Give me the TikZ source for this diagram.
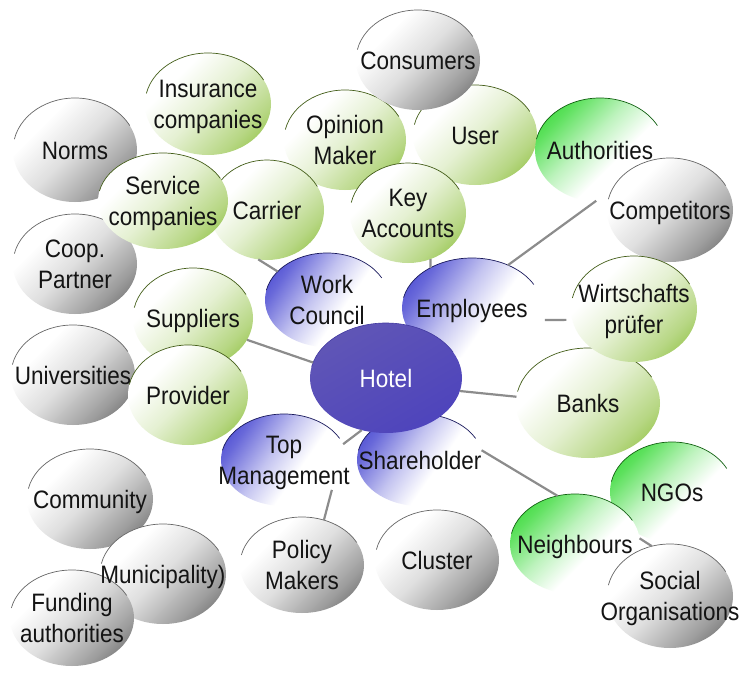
\documentclass[tikz,border=0pt]{standalone}
\usepackage{fontspec}
\usepackage{graphicx}
\setmainfont{Liberation Sans}
\usetikzlibrary{shapes.geometric}
\pgfdeclarelayer{background}
\pgfdeclarelayer{bubbles}
\pgfdeclarelayer{links}
\pgfsetlayers{background,bubbles,links,main}

\definecolor{greyC}{RGB}{92,92,92}
\definecolor{limeC}{RGB}{135,188,50}
\definecolor{vividC}{RGB}{40,215,40}
\definecolor{blueC}{RGB}{55,55,205}
\definecolor{hotelA}{RGB}{96,86,182}
\definecolor{hotelB}{RGB}{78,68,188}

\pgfdeclareverticalshading{greyS}{100bp}{color(0bp)=(greyC); color(15bp)=(greyC); color(30bp)=(greyC!60!white); color(50bp)=(greyC!20!white); color(68bp)=(white); color(100bp)=(white)}
\pgfdeclareverticalshading{limeS}{100bp}{color(0bp)=(limeC); color(15bp)=(limeC); color(30bp)=(limeC!60!white); color(50bp)=(limeC!22!white); color(68bp)=(white); color(100bp)=(white)}
\pgfdeclareverticalshading{vividS}{100bp}{color(0bp)=(white); color(42bp)=(white); color(56bp)=(vividC!30!white); color(72bp)=(vividC!75!white); color(85bp)=(vividC); color(100bp)=(vividC)}
\pgfdeclareverticalshading{blueS}{100bp}{color(0bp)=(white); color(42bp)=(white); color(56bp)=(blueC!30!white); color(72bp)=(blueC!75!white); color(85bp)=(blueC); color(100bp)=(blueC)}

\newcommand\tx[1]{\scalebox{1}[1.12]{\begin{tabular}{@{}c@{}}#1\end{tabular}}}

\tikzset{
  bub/.style={ellipse, inner sep=0pt, outer sep=0pt},
  lbl/.style={inner sep=0pt, yshift=-3pt, font=\fontsize{22.5}{28}\selectfont, text=black!92},
  greyfill/.style={shading=greyS, shading angle=45},
  greyrim/.style={draw=black!60, line width=0.7pt},
  limefill/.style={shading=limeS, shading angle=45},
  limerim/.style={draw=limeC!50!black, line width=0.7pt},
  vividfill/.style={shading=vividS, shading angle=45},
  vividrim/.style={draw=vividC!45!black, line width=0.7pt},
  bluefill/.style={shading=blueS, shading angle=55},
  bluerim/.style={draw=blueC!45!black, line width=0.7pt},
  hotelfill/.style={top color=hotelA, bottom color=hotelB, shading angle=30},
  hotelrim/.style={draw=hotelB!85!black, line width=0.6pt},
  conn/.style={draw=gray!90, line width=2.2pt},
}

% name, x, y, a, b, kind, text
\newcommand\bubble[7]{%
  \node[bub, minimum width={2*#4pt}, minimum height={2*#5pt},
        label={[lbl]center:{\tx{#7}}}] (#1) at (#2,-#3) {};
  \begin{pgfonlayer}{bubbles}
    \shade[#6fill] (#1.center) ellipse[x radius=#4, y radius=#5];
    \draw[#6rim] ([shift={(168:#4 and #5)}]#1.center)
       arc[start angle=168, end angle=28, x radius=#4, y radius=#5];
  \end{pgfonlayer}
}

\begin{document}
\begin{tikzpicture}[x=1pt,y=1pt]
\useasboundingbox (0,0) rectangle (740,-677);
\begin{pgfonlayer}{background}
  \fill[white] (0,0) rectangle (740,-677);
\end{pgfonlayer}

\bubble{insurance}{208}{104}{63}{51}{lime}{Insurance\\companies}
\bubble{user}{475}{135}{62}{50}{lime}{User}
\bubble{opinion}{345}{140}{61}{50}{lime}{Opinion\\Maker}
\bubble{consumers}{418}{60}{62}{50}{grey}{Consumers}
\bubble{norms}{75}{150}{62}{52}{grey}{Norms}
\bubble{authorities}{600}{150}{65}{52}{vivid}{Authorities}
\bubble{comp}{670}{210}{63}{52}{grey}{Competitors}
\bubble{carrier}{267}{210}{57}{50}{lime}{Carrier}
\bubble{keyacc}{408}{213}{58}{50}{lime}{Key\\Accounts}
\bubble{coop}{75}{264}{62}{50}{grey}{Coop.\\Partner}
\bubble{service}{163}{201}{65}{48}{lime}{Service\\companies}
\bubble{wc}{327}{300}{62}{47}{blue}{Work\\Council}
\bubble{emp}{472}{308}{70}{50}{blue}{Employees}
\bubble{sup}{193}{318}{60}{50}{lime}{Suppliers}
\bubble{univ}{73}{375}{62}{50}{grey}{Universities}
\bubble{provider}{188}{395}{60}{50}{lime}{Provider}
\bubble{banks}{588}{403}{72}{55}{lime}{Banks}
\bubble{wirt}{634}{309}{63}{53}{lime}{Wirtschafts\\prüfer}
\bubble{topm}{284}{460}{63}{46}{blue}{Top\\Management}
\bubble{share}{420}{460}{63}{46}{blue}{Shareholder}
\bubble{hotel}{386}{378}{76}{55}{hotel}{\color{white}Hotel}
\bubble{ngos}{672}{492}{62}{50}{vivid}{NGOs}
\bubble{community}{90}{499}{63}{50}{grey}{Community}
\bubble{neigh}{575}{544}{65}{50}{vivid}{Neighbours}
\bubble{cluster}{437}{560}{62}{50}{grey}{Cluster}
\bubble{policy}{302}{565}{62}{48}{grey}{Policy\\Makers}
\bubble{munic}{163}{574}{63}{50}{grey}{Municipality)}
\bubble{social}{670}{596}{63}{52}{grey}{Social\\Organisations}
\bubble{funding}{72}{618}{62}{48}{grey}{Funding\\authorities}

\begin{pgfonlayer}{links}
  \draw[conn] (carrier.-100) -- (wc.150);
  \draw[conn] (keyacc.-64) -- (emp.136);
  \draw[conn, shorten >=20pt] (emp.50) -- (comp.160);
  \draw[conn, shorten <=5pt, shorten >=6pt] (emp.-10) -- (wirt.190);
  \draw[conn] (sup.-22) -- (hotel.168);
  \draw[conn] (hotel.-10) -- (banks.175);
  \draw[conn] (hotel.-115) -- (topm.15);
  \draw[conn] (topm.-32) -- (policy.64);
  \draw[conn] (share.9) -- (neigh.110);
  \draw[conn] (neigh.5) -- (social.110);
\end{pgfonlayer}
\end{tikzpicture}
\end{document}
